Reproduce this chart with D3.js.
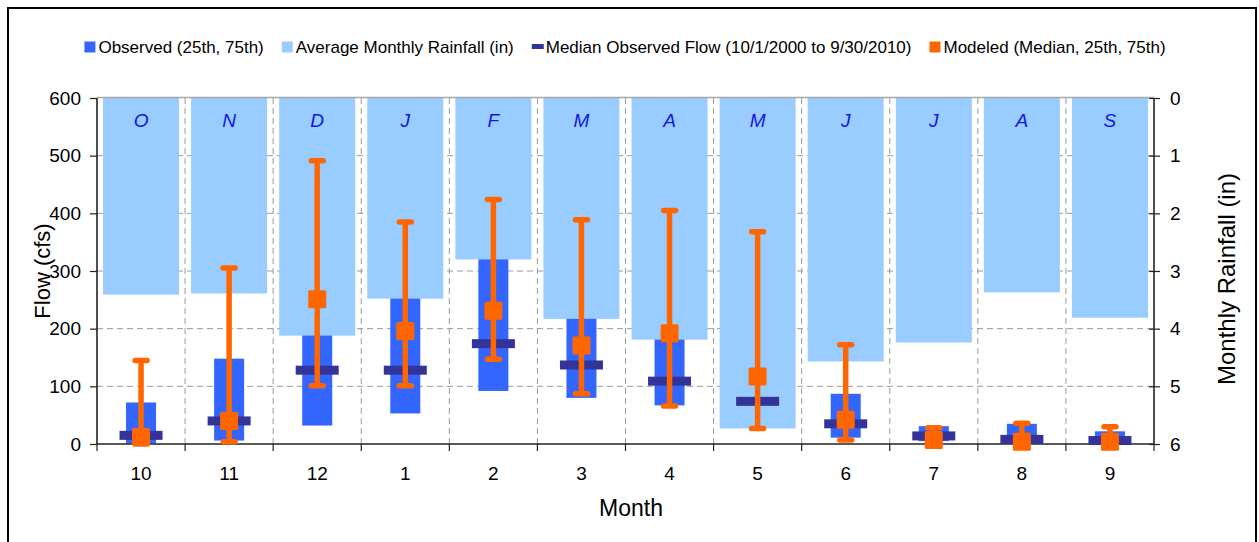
<!DOCTYPE html>
<html>
<head>
<meta charset="utf-8">
<script src="https://cdn.jsdelivr.net/npm/d3@7"></script>
<style>
  html, body { margin: 0; padding: 0; background: #fff; }
  svg { display: block; font-family: "Liberation Sans", Arial, sans-serif; }
</style>
</head>
<body>
<svg id="chart" width="1259" height="542"></svg>
<script>
// ---- data ----
const months = ["10","11","12","1","2","3","4","5","6","7","8","9"];
const monthLetters = ["O","N","D","J","F","M","A","M","J","J","A","S"];
const rainfall = [3.41, 3.39, 4.12, 3.48, 2.80, 3.83, 4.19, 5.73, 4.57, 4.24, 3.37, 3.81];
const obs25 = [1, 6, 32, 53, 92, 80, 67, 40, 11, 5, 3, 2];
const obs75 = [72, 148, 250, 270, 340, 240, 200, 160, 87, 31, 35, 22];
const obsMedian = [15, 40, 128, 128, 174, 137, 109, 74, 35, 14, 8, 6];
const modMedian = [12, 40, 251, 196, 231, 171, 192, 117, 42, 7, 4, 4];
const mod25 = [0, 4, 101, 101, 147, 87, 66, 27, 7, 3, 1, 1];
const mod75 = [145, 305, 491, 385, 424, 389, 405, 368, 172, 28, 36, 30];
const flowTicks = [0, 100, 200, 300, 400, 500, 600];
const rainTicks = [0, 1, 2, 3, 4, 5, 6];
const legendLabels = ["Observed (25th, 75th)", "Average Monthly Rainfall (in)",
  "Median Observed Flow (10/1/2000 to 9/30/2010)", "Modeled (Median, 25th, 75th)"];

// ---- layout ----
const svg = d3.select("#chart");
const L = 97, R = 1154, T = 98, B = 444;
const C = { obs: "#3366FF", rain: "#99CCFF", med: "#333399", mod: "#FF6600", grid: "#9a9a9a", letter: "#1414E6" };

const x = d3.scaleBand().domain(months).range([L, R]).paddingInner(0).paddingOuter(0);
const y = d3.scaleLinear().domain([0, 600]).range([B, T]);
const yr = d3.scaleLinear().domain([0, 6]).range([T, B]);
const cx = m => x(m) + x.bandwidth() / 2;

// outer border
svg.append("rect").attr("x", 8).attr("y", 8).attr("width", 1248).attr("height", 600)
  .attr("fill", "none").attr("stroke", "#000").attr("stroke-width", 2);

// gridlines
const grid = svg.append("g");
grid.selectAll("line.h").data(flowTicks.filter(t => t > 0 && t < 600)).join("line")
  .attr("x1", L).attr("x2", R).attr("y1", d => y(d)).attr("y2", d => y(d))
  .attr("stroke", C.grid).attr("stroke-dasharray", "6,4");
grid.selectAll("line.v").data(months.slice(1)).join("line")
  .attr("x1", d => x(d)).attr("x2", d => x(d)).attr("y1", T).attr("y2", B)
  .attr("stroke", C.grid).attr("stroke-dasharray", "6,4");

// observed bars (25th-75th)
const obsW = 30;
svg.append("g").selectAll("rect").data(months).join("rect")
  .attr("x", d => cx(d) - obsW / 2).attr("width", obsW)
  .attr("y", (d, i) => y(obs75[i])).attr("height", (d, i) => y(obs25[i]) - y(obs75[i]))
  .attr("fill", C.obs);

// rainfall bars (secondary axis, inverted)
const rainW = 76;
svg.append("g").selectAll("rect").data(months).join("rect")
  .attr("x", d => cx(d) - rainW / 2).attr("width", rainW)
  .attr("y", yr(0)).attr("height", (d, i) => yr(rainfall[i]) - yr(0))
  .attr("fill", C.rain);

// month letters
svg.append("g").selectAll("text").data(months).join("text")
  .attr("x", d => cx(d)).attr("y", 127).attr("text-anchor", "middle")
  .attr("font-size", 19).attr("font-style", "italic").attr("fill", C.letter)
  .text((d, i) => monthLetters[i]);

// top plot edge
svg.append("line").attr("x1", L).attr("x2", R).attr("y1", T - 0.5).attr("y2", T - 0.5)
  .attr("stroke", "#a8a8a8").attr("stroke-width", 1.5);

// axes
const axL = svg.append("g").attr("transform", `translate(${L},0)`)
  .call(d3.axisLeft(y).tickValues(flowTicks).tickSize(7).tickPadding(9).tickFormat(d3.format("d")));
const axR = svg.append("g").attr("transform", `translate(${R},0)`)
  .call(d3.axisRight(yr).tickValues(rainTicks).tickSize(6).tickPadding(10).tickFormat(d3.format("d")));
axR.selectAll(".tick line").attr("x1", -5);
const axB = svg.append("g").attr("transform", `translate(0,${B})`)
  .call(d3.axisBottom(x).tickSize(0).tickPadding(30));
axB.selectAll(".tick text").attr("dy", "0.3em");
svg.append("g").selectAll("line").data(months.concat(["end"])).join("line")
  .attr("x1", d => d === "end" ? R : x(d)).attr("x2", d => d === "end" ? R : x(d))
  .attr("y1", B).attr("y2", B + 7).attr("stroke", "#222").attr("stroke-width", 1.2);
[axL, axR, axB].forEach(a => {
  a.select(".domain").attr("stroke", "#222").attr("stroke-width", 1.6);
  a.selectAll(".tick line").attr("stroke", "#222").attr("stroke-width", 1.2);
  a.selectAll(".tick text").attr("font-size", 19).attr("fill", "#000")
    .attr("font-family", "'Liberation Sans', Arial, sans-serif");
});
axB.select(".domain").attr("d", `M${L},0H${R}`);
axL.select(".domain").attr("d", `M0,${T}V${B}`);
axR.select(".domain").attr("d", `M0,${T}V${B}`);

// median observed flow
const medW = 43, medH = 9;
svg.append("g").selectAll("rect").data(months).join("rect")
  .attr("x", d => cx(d) - medW / 2).attr("width", medW)
  .attr("y", (d, i) => y(obsMedian[i]) - medH / 2).attr("height", medH)
  .attr("fill", C.med);

// modeled error bars
const mg = svg.append("g");
mg.selectAll("line.err").data(months).join("line")
  .attr("x1", d => cx(d)).attr("x2", d => cx(d))
  .attr("y1", (d, i) => y(mod25[i])).attr("y2", (d, i) => y(mod75[i]))
  .attr("stroke", C.mod).attr("stroke-width", 5.5);
["lo", "hi"].forEach(k => {
  mg.selectAll("line.cap" + k).data(months).join("line")
    .attr("x1", d => cx(d) - 6).attr("x2", d => cx(d) + 6)
    .attr("y1", (d, i) => y(k === "lo" ? mod25[i] : mod75[i]))
    .attr("y2", (d, i) => y(k === "lo" ? mod25[i] : mod75[i]))
    .attr("stroke", C.mod).attr("stroke-width", 5.5).attr("stroke-linecap", "round");
});
const sq = 18;
mg.selectAll("rect").data(months).join("rect")
  .attr("x", d => cx(d) - sq / 2).attr("width", sq)
  .attr("y", (d, i) => y(modMedian[i]) - sq / 2).attr("height", sq)
  .attr("rx", 1.5).attr("fill", C.mod);

// legend
const lg = svg.append("g");
const legColors = [C.obs, C.rain, C.med, C.mod];
let lx = 0;
const gap = 18;
const items = [];
legendLabels.forEach((lab, i) => {
  const g = lg.append("g");
  if (i === 2) {
    g.append("rect").attr("x", 0).attr("y", -3).attr("width", 12).attr("height", 5).attr("fill", legColors[i]);
  } else {
    g.append("rect").attr("x", 0).attr("y", -5.5).attr("width", 11).attr("height", 11).attr("fill", legColors[i]);
  }
  const t = g.append("text").attr("x", 14).attr("y", 6).attr("font-size", 17).attr("fill", "#000").text(lab);
  const w = 14 + t.node().getComputedTextLength();
  items.push({ g, x: lx });
  lx += w + gap;
});
const totalW = lx - gap;
const startX = 625 - totalW / 2;
items.forEach(it => it.g.attr("transform", `translate(${startX + it.x},47)`));

// axis titles
svg.append("text").attr("transform", "translate(50,271) rotate(-90)")
  .attr("text-anchor", "middle").attr("font-size", 22).attr("fill", "#000").text("Flow (cfs)");
svg.append("text").attr("transform", "translate(1235,279) rotate(-90)")
  .attr("text-anchor", "middle").attr("font-size", 24).attr("fill", "#000").text("Monthly Rainfall (in)");
svg.append("text").attr("x", 631).attr("y", 516)
  .attr("text-anchor", "middle").attr("font-size", 23).attr("fill", "#000").text("Month");
</script>
</body>
</html>
